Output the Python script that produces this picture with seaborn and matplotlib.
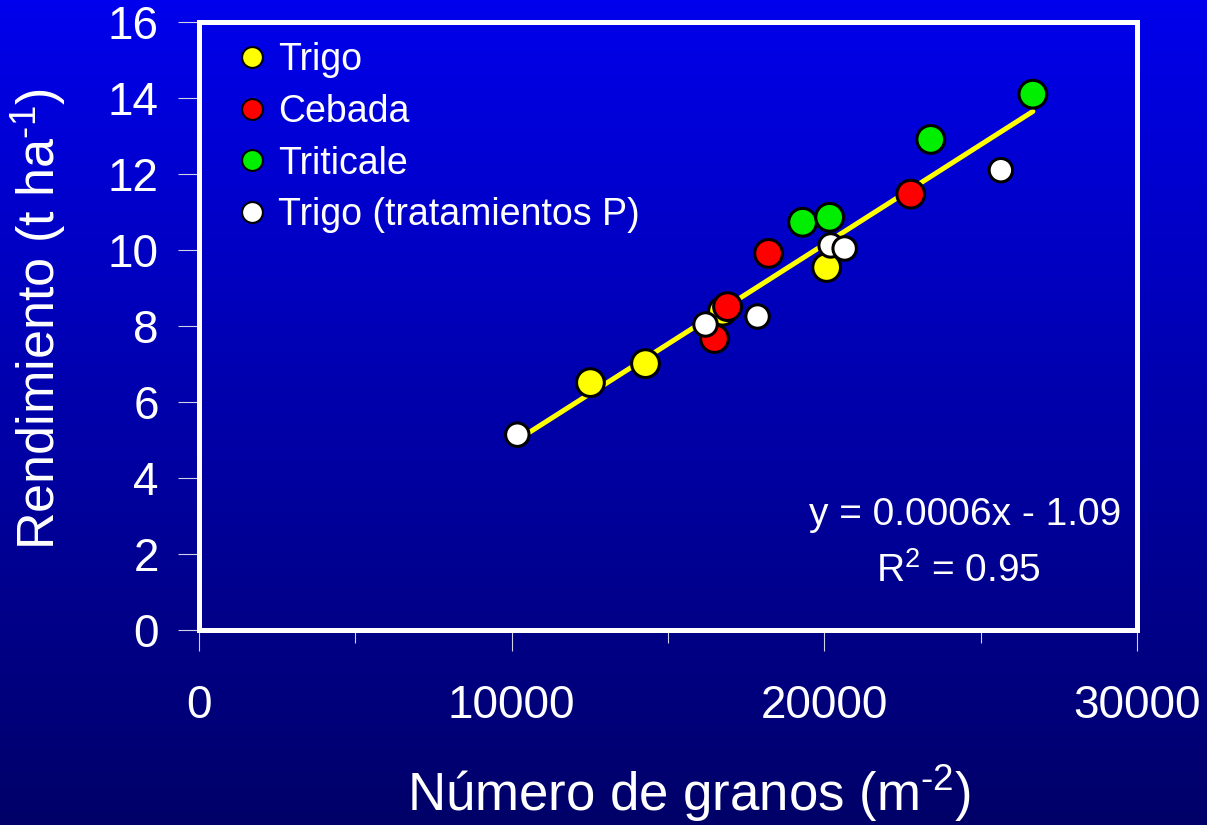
import numpy as np
import pandas as pd
import matplotlib
matplotlib.use("Agg")
import matplotlib.pyplot as plt
from matplotlib.colors import LinearSegmentedColormap
from matplotlib.lines import Line2D
from matplotlib.ticker import MultipleLocator
import seaborn as sns

# ---------------- data ----------------
trigo_x = [12519, 14280, 16744, 20074]
trigo_y = [6.51, 7.01, 8.39, 9.54]
cebada_x = [16488, 16905, 18217, 22763]
cebada_y = [7.67, 8.51, 9.91, 11.47]
triticale_x = [19306, 20170, 23404, 26670]
triticale_y = [10.73, 10.86, 12.91, 14.10]
trigoP_x = [10181, 16200, 17865, 20202, 20650, 25646]
trigoP_y = [5.14, 8.04, 8.25, 10.12, 10.04, 12.10]

groups = ["Trigo", "Cebada", "Triticale", "Trigo (tratamientos P)"]
colors = ["#FFFF00", "#FF0000", "#00EE00", "#FFFFFF"]
x_ticks = [0, 10000, 20000, 30000]
y_ticks = [0, 2, 4, 6, 8, 10, 12, 14, 16]
eq_text = "y = 0.0006x - 1.09"
r2_text = "R$^2$ = 0.95"
xlabel = r"Número de granos (m$^{\text{-2}}$)"
ylabel = r"Rendimiento (t ha$^{\text{-1}}$)"

df = pd.DataFrame({
    "x": trigo_x + cebada_x + triticale_x + trigoP_x,
    "y": trigo_y + cebada_y + triticale_y + trigoP_y,
    "grupo": [groups[0]] * len(trigo_x) + [groups[1]] * len(cebada_x)
             + [groups[2]] * len(triticale_x) + [groups[3]] * len(trigoP_x),
})

# ---------------- style ----------------
sns.set_style("ticks")
plt.rcParams["font.family"] = ["Liberation Sans", "DejaVu Sans"]
plt.rcParams["mathtext.fontset"] = "custom"
plt.rcParams["mathtext.rm"] = "Liberation Sans"
plt.rcParams["mathtext.it"] = "Liberation Sans:italic"
plt.rcParams["mathtext.bf"] = "Liberation Sans:bold"
plt.rcParams["mathtext.default"] = "regular"

fig = plt.figure(figsize=(12.07, 8.25), dpi=100)

# gradient background
bg = fig.add_axes([0, 0, 1, 1], zorder=0)
cmap = LinearSegmentedColormap.from_list("bg", ["#0000EC", "#000068"])
grad = np.linspace(0, 1, 256).reshape(-1, 1)
bg.imshow(grad, aspect="auto", cmap=cmap, extent=[0, 1, 0, 1], origin="upper")
bg.set_axis_off()

ax = fig.add_axes([199 / 1207, 1 - 630 / 825, 938 / 1207, 608 / 825], zorder=1)
ax.set_facecolor("none")

# regression line
sns.regplot(data=df, x="x", y="y", scatter=False, ci=None, ax=ax,
            line_kws=dict(color="#FFFF00", lw=3.6, zorder=2))

palette = dict(zip(groups, colors))
sizes = {groups[0]: 400, groups[1]: 400, groups[2]: 400, groups[3]: 285}
sns.scatterplot(data=df, x="x", y="y", hue="grupo", size="grupo",
                palette=palette, sizes=sizes, edgecolor="black",
                linewidth=2.2, legend=False, ax=ax, zorder=3)

ax.set_xlim(0, 30000)
ax.set_ylim(0, 16)
ax.set_xticks(x_ticks)
ax.set_yticks(y_ticks)
ax.xaxis.set_minor_locator(MultipleLocator(5000))
ax.tick_params(axis="both", which="major", colors="#D0D0E8", labelcolor="white",
               direction="out", width=0.8)
ax.tick_params(axis="y", length=15, pad=14, labelsize=33)
ax.tick_params(axis="x", length=15, pad=24, labelsize=33)
ax.tick_params(axis="x", which="minor", length=9, width=0.8, colors="#D0D0E8")

for s in ax.spines.values():
    s.set_color("white")
    s.set_linewidth(3.6)
    s.set_visible(True)

ax.set_xlabel(xlabel, color="white", fontsize=38)
ax.set_ylabel(ylabel, color="white", fontsize=37.5)
ax.xaxis.set_label_coords(0.522, -0.218)
ax.yaxis.set_label_coords(-0.139, 0.5115)

# legend
handles = [Line2D([0], [0], marker="o", linestyle="none", markerfacecolor=c,
                  markeredgecolor="black", markeredgewidth=1.5, markersize=15)
           for c in colors]
leg = ax.legend(handles, groups, loc="upper left", bbox_to_anchor=(0.041, 0.967),
                frameon=False, fontsize=27, handlelength=0.8, handletextpad=0.28,
                labelspacing=0.42, borderpad=0, borderaxespad=0)
for t in leg.get_texts():
    t.set_color("white")

ax.text(0.8166, 0.1727, eq_text, transform=ax.transAxes, ha="center",
        va="baseline", color="white", fontsize=28)
ax.text(0.8095, 0.079, r2_text, transform=ax.transAxes, ha="center",
        va="baseline", color="white", fontsize=28)

fig.savefig("out.png", dpi=100)
